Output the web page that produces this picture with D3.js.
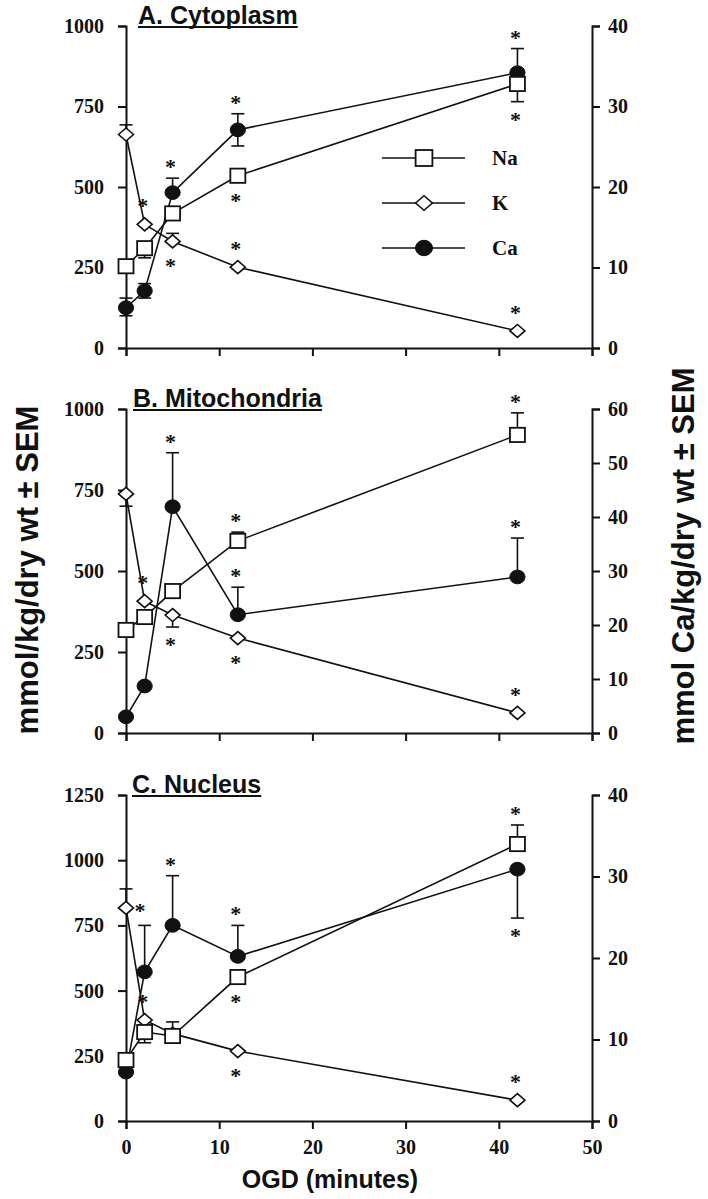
<!DOCTYPE html>
<html><head><meta charset="utf-8">
<script src="https://cdn.jsdelivr.net/npm/d3@7"></script>
<style>
html,body{margin:0;padding:0;background:#fff;}
svg{display:block;}
.tick text{font-family:"Liberation Serif","Times New Roman",serif;font-weight:bold;font-size:20px;fill:#111;}
</style></head>
<body>
<svg id="chart" width="708" height="1199"></svg>
<script>
// ---- data ----
const times = [0, 2, 5, 12, 42];
const panelTitles = ["A. Cytoplasm", "B. Mitochondria", "C. Nucleus"];
const leftMax = [1000, 1000, 1250];
const rightMax = [40, 60, 40];
const leftTicks = [[0, 250, 500, 750, 1000], [0, 250, 500, 750, 1000], [0, 250, 500, 750, 1000, 1250]];
const rightTicks = [[0, 10, 20, 30, 40], [0, 10, 20, 30, 40, 50, 60], [0, 10, 20, 30, 40]];
const xTicks = [0, 10, 20, 30, 40, 50];
const seriesNames = ["Na", "K", "Ca"];

// Cytoplasm
const naA = [254, 310, 418, 535, 820];
const kA = [663, 384, 331, 251, 53];
const caA = [5.0, 7.1, 19.3, 27.1, 34.2];
const naErrA = [[0, 0], [0, 30], [0, 0], [0, 0], [0, 55]];
const kErrA = [[30, 0], [0, 0], [25, 0], [0, 0], [0, 0]];
const caErrA = [[1.2, 1.0], [0.9, 0.9], [1.8, 0], [2.0, 2.0], [3.0, 0]];
const starsA = [["K", 1, "above"], ["Ca", 2, "above"], ["K", 2, "below"], ["Ca", 3, "above"], ["Na", 3, "below"], ["K", 3, "above"], ["Ca", 4, "above"], ["Na", 4, "below"], ["K", 4, "above"]];

// Mitochondria
const naB = [318, 358, 438, 593, 920];
const kB = [738, 407, 364, 293, 62];
const caB = [3.0, 8.7, 41.9, 21.9, 28.9];
const naErrB = [[0, 0], [0, 0], [0, 0], [27, 0], [68, 0]];
const kErrB = [[0, 38], [0, 0], [0, 37], [0, 0], [0, 0]];
const caErrB = [[0, 0], [0, 0], [10, 0], [5.1, 0], [7.2, 0]];
const starsB = [["K", 1, "above"], ["Ca", 2, "above"], ["K", 2, "below"], ["Na", 3, "above"], ["Ca", 3, "above"], ["K", 3, "below"], ["Na", 4, "above"], ["Ca", 4, "above"], ["K", 4, "above"]];

// Nucleus
const naC = [234, 341, 326, 552, 1062];
const kC = [817, 387, 335, 268, 80];
const caC = [6.0, 18.3, 24.0, 20.2, 30.9];
const naErrC = [[0, 0], [0, 41], [54, 0], [0, 0], [73, 0]];
const kErrC = [[73, 0], [0, 0], [0, 0], [0, 0], [0, 0]];
const caErrC = [[0, 0], [5.7, 0], [6.1, 0], [3.8, 0], [0, 6.0]];
const starsC = [["K", 0, "right"], ["K", 1, "above"], ["Ca", 2, "above"], ["Ca", 3, "above"], ["Na", 3, "below"], ["K", 3, "below"], ["Na", 4, "above"], ["Ca", 4, "below"], ["K", 4, "above"]];

const panelData = [
  {Na: naA, K: kA, Ca: caA, err: {Na: naErrA, K: kErrA, Ca: caErrA}, stars: starsA},
  {Na: naB, K: kB, Ca: caB, err: {Na: naErrB, K: kErrB, Ca: caErrB}, stars: starsB},
  {Na: naC, K: kC, Ca: caC, err: {Na: naErrC, K: kErrC, Ca: caErrC}, stars: starsC}
];

// ---- layout ----
const svg = d3.select("#chart");
const X0 = 126, X1 = 592;
const panelY = [[348, 26], [733, 409], [1121, 795]];
const titleX = [138, 133, 132];
const x = d3.scaleLinear().domain([0, 50]).range([X0, X1]);
const SANS = "'Liberation Sans', Arial, Helvetica, sans-serif";
const SERIF = "'Liberation Serif', 'Times New Roman', serif";

function markerPath(name, g, cx, cy, legend) {
  const s = legend ? 1.12 : 1;
  if (name === "Na") {
    const h = 7.5 * s;
    g.append("rect").attr("x", cx - h).attr("y", cy - h * 0.95).attr("width", 2 * h).attr("height", 2 * h * 0.95)
      .attr("fill", "#fff").attr("stroke", "#111").attr("stroke-width", 1.8);
  } else if (name === "K") {
    const w = 7.5 * s, hh = 6.5 * s;
    g.append("path").attr("d", `M${cx - w},${cy}L${cx},${cy - hh}L${cx + w},${cy}L${cx},${cy + hh}Z`)
      .attr("fill", "#fff").attr("stroke", "#111").attr("stroke-width", 1.6);
  } else {
    g.append("ellipse").attr("cx", cx).attr("cy", cy).attr("rx", 7.6 * s).attr("ry", 6.9 * s)
      .attr("fill", "#111").attr("stroke", "#111").attr("stroke-width", 1);
  }
}

panelData.forEach((pd, p) => {
  const [yb, yt] = panelY[p];
  const yL = d3.scaleLinear().domain([0, leftMax[p]]).range([yb, yt]);
  const yR = d3.scaleLinear().domain([0, rightMax[p]]).range([yb, yt]);
  const ys = {Na: yL, K: yL, Ca: yR};
  const g = svg.append("g");

  // axes
  const ax = d3.axisBottom(x).tickValues(xTicks).tickSize(8).tickPadding(7)
    .tickFormat(p === 2 ? d3.format("d") : () => "");
  const gx = g.append("g").attr("transform", `translate(0,${yb})`).call(ax);
  const axl = d3.axisLeft(yL).tickValues(leftTicks[p]).tickSize(8).tickPadding(14).tickFormat(d3.format("d"));
  const gl = g.append("g").attr("transform", `translate(${X0},0)`).call(axl);
  const axr = d3.axisRight(yR).tickValues(rightTicks[p]).tickSize(8).tickPadding(8).tickFormat(d3.format("d"));
  const gr = g.append("g").attr("transform", `translate(${X1},0)`).call(axr);
  [gx, gl, gr].forEach(a => {
    a.select(".domain").attr("stroke", "#111").attr("stroke-width", 2);
    a.selectAll(".tick line").attr("stroke", "#111").attr("stroke-width", 2);
    a.selectAll(".tick text").attr("fill", "#111");
  });
  gx.selectAll(".tick text").attr("dy", "0.9em");

  // title
  const t = g.append("text").attr("x", titleX[p]).attr("y", yt - 2)
    .attr("font-family", SANS).attr("font-weight", "bold").attr("font-size", 25).attr("fill", "#111")
    .text(panelTitles[p]);
  const tw = t.node().getComputedTextLength();
  g.append("line").attr("x1", titleX[p]).attr("x2", titleX[p] + tw).attr("y1", yt + 1).attr("y2", yt + 1)
    .attr("stroke", "#111").attr("stroke-width", 1.8);

  const line = d3.line();
  // lines
  ["K", "Ca", "Na"].forEach(s => {
    const pts = times.map((tm, i) => [x(tm), ys[s](pd[s][i])]);
    g.append("path").attr("d", line(pts)).attr("fill", "none").attr("stroke", "#111").attr("stroke-width", 1.6);
  });
  // error bars
  ["K", "Ca", "Na"].forEach(s => {
    times.forEach((tm, i) => {
      const [up, dn] = pd.err[s][i];
      const cx = x(tm), v = pd[s][i];
      [[up, 1], [dn, -1]].forEach(([e, dir]) => {
        if (e > 0) {
          const ye = ys[s](v + dir * e);
          g.append("line").attr("x1", cx).attr("x2", cx).attr("y1", ys[s](v)).attr("y2", ye).attr("stroke", "#111").attr("stroke-width", 1.6);
          g.append("line").attr("x1", cx - 6.5).attr("x2", cx + 6.5).attr("y1", ye).attr("y2", ye).attr("stroke", "#111").attr("stroke-width", 1.6);
        }
      });
    });
  });
  // markers
  ["K", "Ca", "Na"].forEach(s => {
    times.forEach((tm, i) => markerPath(s, g, x(tm), ys[s](pd[s][i]), false));
  });
  // significance stars
  pd.stars.forEach(([s, i, pos]) => {
    const cx = x(times[i]), v = pd[s][i];
    const cy = ys[s](v);
    const [up, dn] = pd.err[s][i];
    let sx = cx - 2, sy;
    if (pos === "above") {
      sy = Math.min(cy - 7, up > 0 ? ys[s](v + up) : cy) - 14;
    } else if (pos === "below") {
      sy = Math.max(cy + 7, dn > 0 ? ys[s](v - dn) : cy) + 15;
    } else {
      sx = cx + 14; sy = cy;
    }
    g.append("text").attr("x", sx).attr("y", sy + 10).attr("text-anchor", "middle")
      .attr("font-family", SERIF).attr("font-weight", "bold").attr("font-size", 22).attr("fill", "#111").text("*");
  });

  // legend (panel A only)
  if (p === 0) {
    const lg = g.append("g");
    const ly = [158, 203, 248];
    seriesNames.forEach((s, k) => {
      lg.append("line").attr("x1", 382).attr("x2", 465).attr("y1", ly[k]).attr("y2", ly[k]).attr("stroke", "#111").attr("stroke-width", 1.6);
      markerPath(s, lg, 424, ly[k], true);
      lg.append("text").attr("x", 492).attr("y", ly[k] + 7).attr("font-family", SERIF).attr("font-weight", "bold")
        .attr("font-size", 21).attr("fill", "#111").text(s);
    });
  }
});

// axis titles
svg.append("text").attr("transform", "translate(38,570) rotate(-90)").attr("text-anchor", "middle")
  .attr("font-family", SANS).attr("font-weight", "bold").attr("font-size", 31).attr("fill", "#111")
  .text("mmol/kg/dry wt \u00B1 SEM");
svg.append("text").attr("transform", "translate(694,556) rotate(-90)").attr("text-anchor", "middle")
  .attr("font-family", SANS).attr("font-weight", "bold").attr("font-size", 31).attr("fill", "#111")
  .text("mmol Ca/kg/dry wt \u00B1 SEM");
svg.append("text").attr("x", 330).attr("y", 1188).attr("text-anchor", "middle")
  .attr("font-family", SANS).attr("font-weight", "bold").attr("font-size", 25).attr("fill", "#111")
  .text("OGD (minutes)");
</script>
</body></html>
